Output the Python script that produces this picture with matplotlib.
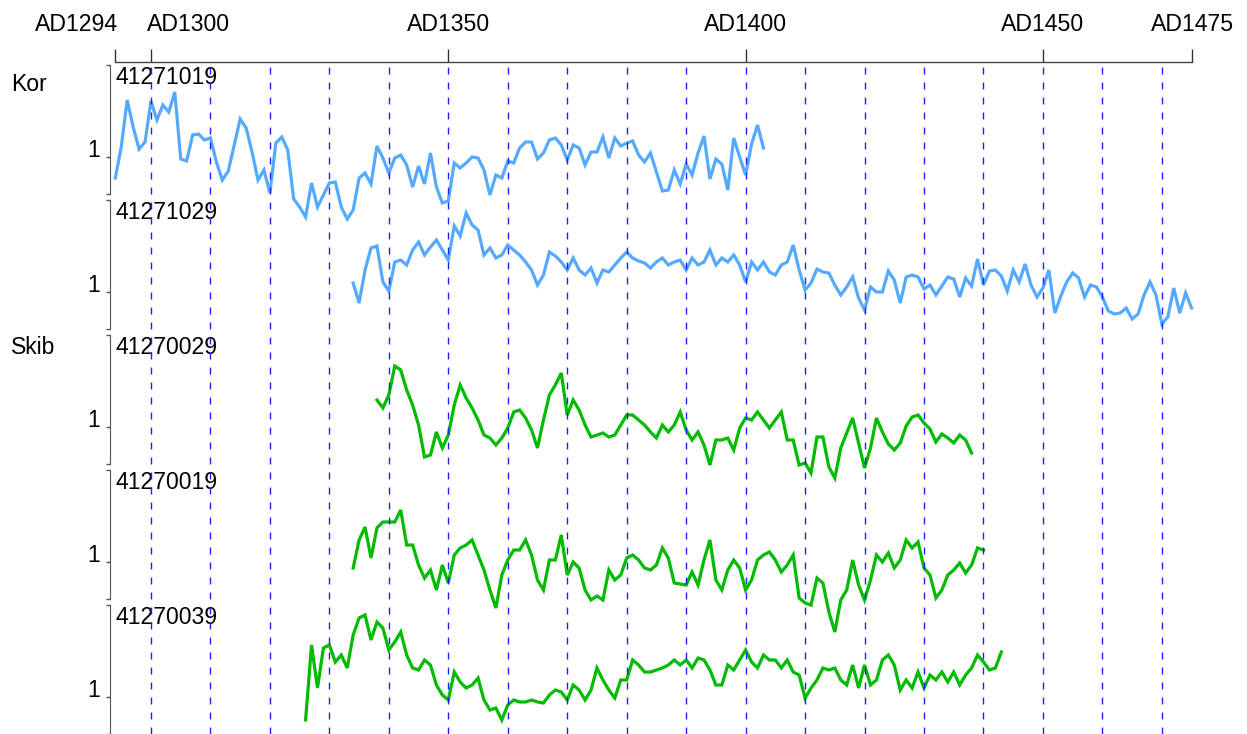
import numpy as np
import matplotlib.pyplot as plt
from matplotlib.transforms import blended_transform_factory

plt.rcParams['font.family'] = ['Liberation Sans', 'DejaVu Sans']
plt.rcParams['lines.scale_dashes'] = False

# time axis
first_year, last_year = 1294, 1475
axis_years = [1294, 1300, 1350, 1400, 1450, 1475]
axis_labels = ["AD1294", "AD1300", "AD1350", "AD1400", "AD1450", "AD1475"]
decades = list(range(1300, 1475, 10))

# series (ring width index, one value per year)
series_names = ["41271019", "41271029", "41270029", "41270019", "41270039"]
series_start = [1294, 1334, 1338, 1334, 1326]
series_group = ["Kor", "Kor", "Skib", "Skib", "Skib"]
group_colors = {"Kor": "#55aaff", "Skib": "#00bb00"}

kor_41271019 = [
    0.79, 1.10, 1.57, 1.30, 1.08, 1.15, 1.56, 1.37, 1.52, 1.45,
    1.65, 0.98, 0.96, 1.22, 1.23, 1.17, 1.19, 0.95, 0.77, 0.86,
    1.12, 1.38, 1.29, 1.05, 0.77, 0.87, 0.64, 1.14, 1.20, 1.07,
    0.58, 0.50, 0.40, 0.74, 0.50, 0.62, 0.74, 0.75, 0.50, 0.38,
    0.47, 0.79, 0.84, 0.73, 1.11, 0.99, 0.84, 0.99, 1.02, 0.92,
    0.70, 0.91, 0.73, 1.04, 0.70, 0.54, 0.56, 0.94, 0.89, 0.94,
    1.00, 0.99, 0.87, 0.62, 0.82, 0.79, 0.96, 0.94, 1.09, 1.15,
    1.15, 0.98, 1.04, 1.17, 1.19, 1.12, 0.97, 1.12, 1.09, 0.92,
    1.05, 1.05, 1.20, 0.99, 1.19, 1.11, 1.14, 1.16, 1.02, 0.95,
    1.04, 0.85, 0.66, 0.67, 0.87, 0.73, 0.93, 0.82, 1.04, 1.21,
    0.78, 0.98, 0.93, 0.67, 1.19, 1.00, 0.82, 1.13, 1.32, 1.09,
]
kor_41271029 = [
    1.09, 0.89, 1.22, 1.44, 1.46, 1.10, 1.01, 1.30, 1.32, 1.27,
    1.42, 1.50, 1.37, 1.45, 1.52, 1.42, 1.32, 1.66, 1.56, 1.79,
    1.67, 1.62, 1.37, 1.44, 1.34, 1.37, 1.47, 1.42, 1.37, 1.30,
    1.22, 1.07, 1.17, 1.40, 1.36, 1.30, 1.22, 1.34, 1.22, 1.17,
    1.24, 1.09, 1.22, 1.20, 1.27, 1.34, 1.40, 1.34, 1.31, 1.29,
    1.24, 1.30, 1.34, 1.27, 1.30, 1.32, 1.22, 1.34, 1.27, 1.30,
    1.42, 1.27, 1.34, 1.30, 1.37, 1.27, 1.10, 1.30, 1.22, 1.30,
    1.20, 1.17, 1.27, 1.30, 1.47,
    1.22, 1.02, 1.09, 1.23, 1.20, 1.19, 1.07, 0.97, 1.05, 1.15,
    0.94, 0.82, 1.05, 1.00, 1.00, 1.21, 1.12, 0.89, 1.15, 1.17,
    1.15, 1.03, 1.07, 0.97, 1.06, 1.15, 1.13, 0.95, 1.14, 1.06,
    1.33, 1.07, 1.21, 1.22, 1.16, 1.01, 1.22, 1.10, 1.28, 1.07,
    0.95, 1.04, 1.22, 0.79, 0.96, 1.10, 1.19, 1.14, 0.95, 1.07,
    1.05, 0.95, 0.81, 0.78, 0.79, 0.84, 0.73, 0.78, 0.97, 1.10,
    0.97, 0.68, 0.75, 1.04, 0.79, 0.99, 0.84,
]
skib_41270029 = [
    1.27, 1.19, 1.32, 1.61, 1.57, 1.37, 1.22, 1.02, 0.70, 0.72,
    0.95, 0.79, 0.92, 1.22, 1.42, 1.29, 1.19, 1.07, 0.92, 0.89,
    0.82, 0.89, 0.99, 1.15, 1.17, 1.09, 0.97, 0.79, 1.07, 1.32,
    1.42, 1.54, 1.12, 1.27, 1.17, 1.02, 0.90, 0.92, 0.94, 0.90,
    0.92, 1.02, 1.12, 1.12, 1.07, 1.02, 0.95, 0.89, 1.02, 0.95,
    1.02, 1.15, 0.97, 0.87, 0.95, 0.82, 0.62, 0.87, 0.87, 0.89,
    0.77, 0.99, 1.09, 1.07, 1.15, 1.07, 0.99, 1.07, 1.15, 0.87,
    0.87,
    0.62, 0.64, 0.54, 0.90, 0.90, 0.60, 0.49, 0.79, 0.94, 1.09,
    0.84, 0.59, 0.79, 1.09, 0.95, 0.83, 0.77, 0.84, 1.01, 1.10,
    1.12, 1.04, 0.98, 0.85, 0.93, 0.89, 0.84, 0.92, 0.87, 0.74,
]
skib_41270019 = [
    0.94, 1.22, 1.35, 1.04, 1.34, 1.40, 1.40, 1.40, 1.52, 1.17,
    1.17, 0.97, 0.84, 0.92, 0.72, 0.97, 0.79, 1.07, 1.14, 1.17,
    1.22, 1.07, 0.92, 0.72, 0.54, 0.87, 1.02, 1.12, 1.12, 1.22,
    1.07, 0.82, 0.72, 1.02, 1.02, 1.27, 0.87, 1.00, 0.94, 0.72,
    0.62, 0.66, 0.62, 0.92, 0.82, 0.87, 1.04, 1.07, 1.02, 0.94,
    0.92, 0.97, 1.14, 1.04, 0.79, 0.78, 0.77, 0.90, 0.77, 1.02,
    1.22, 0.82, 0.72, 0.92, 1.02, 0.94, 0.72, 0.82, 1.02, 1.07,
    1.10, 1.02, 0.90, 0.97, 1.07, 0.64, 0.59, 0.57, 0.84, 0.79,
    0.50, 0.30, 0.62, 0.72, 1.02, 0.77, 0.62, 0.82, 1.07, 1.00,
    1.09, 0.94, 1.02, 1.22, 1.14, 1.20, 0.94, 0.87, 0.64, 0.72,
    0.87, 0.92, 0.99, 0.89, 0.97, 1.14, 1.12,
]
skib_41270039 = [
    0.77, 1.52, 1.09, 1.49, 1.52, 1.35, 1.42, 1.29, 1.62, 1.79,
    1.82, 1.57, 1.75, 1.69, 1.47, 1.55, 1.65, 1.42, 1.29, 1.27,
    1.37, 1.32, 1.12, 1.02, 0.97, 1.25, 1.15, 1.09, 1.12, 1.19,
    0.97, 0.87, 0.89, 0.77, 0.92, 0.97, 0.95, 0.95, 0.97, 0.95,
    0.94, 1.02, 1.07, 1.05, 0.97, 1.12, 1.07, 0.97, 1.07, 1.29,
    1.17, 1.07, 0.99, 1.17, 1.17, 1.37, 1.32, 1.25, 1.25, 1.27,
    1.29, 1.32, 1.37, 1.32, 1.37, 1.29, 1.39, 1.37, 1.27, 1.12,
    1.12, 1.32, 1.27, 1.37, 1.47, 1.35, 1.29, 1.42, 1.37, 1.37,
    1.29, 1.37, 1.25, 1.22, 0.99, 1.09, 1.17, 1.29, 1.27, 1.29,
    1.17, 1.12, 1.32, 1.09, 1.32, 1.12, 1.17, 1.37, 1.42, 1.32,
    1.07, 1.17, 1.09, 1.25, 1.09, 1.22, 1.17, 1.25, 1.15, 1.25,
    1.12, 1.22, 1.29, 1.42, 1.35, 1.27, 1.29, 1.45,
]
series_values = [kor_41271019, kor_41271029, skib_41270029,
                 skib_41270019, skib_41270039]

W, H = 1247, 734
fs = 16.6
fig = plt.figure(figsize=(W / 100, H / 100), dpi=100)

x0, x1 = 115.3, 1191.6
left = x0 / W
width = (x1 - x0) / W
panel_top, panel_step, panel_h = 65, 135, 129.3
ylo, yhi = 0.627, 1.92

for k, name in enumerate(series_names):
    top = panel_top + panel_step * k
    ax = fig.add_axes([left, 1 - (top + panel_h) / H, width, panel_h / H])
    ax.set_facecolor("none")
    vals = series_values[k]
    years = series_start[k] + np.arange(len(vals))
    ax.plot(years, vals, color=group_colors[series_group[k]], lw=2.3,
            clip_on=False, solid_joinstyle="miter")
    ax.set_xlim(first_year, last_year)
    ax.set_ylim(ylo, yhi)
    for s in ["top", "right", "bottom"]:
        ax.spines[s].set_visible(False)
    ax.spines["left"].set_position(("outward", 3.6))
    ax.spines["left"].set_color("#555555")
    ax.set_xticks([])
    ax.set_yticks([ylo, 1, yhi])
    ax.set_yticklabels(["", "1", ""])
    ax.tick_params(axis="y", length=3, width=1, color="#555555",
                   labelsize=fs, pad=4.3)
    for t in ax.get_yticklabels():
        t.set_verticalalignment("baseline")
    ax.text(0.0, 0.995, name, transform=ax.transAxes, ha="left", va="top",
            fontsize=fs)

fig.text(11 / W, 1 - 91 / H, "Kor", fontsize=fs, va="baseline")
fig.text(11 / W, 1 - 354 / H, "Skib", fontsize=fs, va="baseline")

# top time axis and decade guides
top_y = 62
axt = fig.add_axes([left, 0, width, 1 - top_y / H])
axt.set_facecolor("none")
axt.set_xlim(first_year, last_year)
axt.set_ylim(0, 1)
for s in ["left", "right", "bottom"]:
    axt.spines[s].set_visible(False)
axt.spines["top"].set_color("#444444")
axt.spines["top"].set_linewidth(1.0)
axt.xaxis.tick_top()
axt.set_xticks(axis_years)
axt.set_xticklabels([])
axt.tick_params(axis="x", direction="out", length=9.4, width=1, color="#333333")
axt.set_yticks([])
guide_top = 1 - (67 - top_y) / (H - top_y)
for d in decades:
    axt.axvline(d, ymin=0, ymax=guide_top, color="#2020ff", lw=1.0,
                dashes=(5, 5.8))

tr = blended_transform_factory(axt.transData, fig.transFigure)
label_ha = ["right", "left", "center", "center", "center", "center"]
label_dx = [0.4, -0.6, 0, 0, 0, 0.2]
for yr, lab, ha, dx in zip(axis_years, axis_labels, label_ha, label_dx):
    fig.text(yr + dx, 1 - 31 / H, lab, transform=tr, ha=ha, va="baseline",
             fontsize=fs)

fig.savefig("out.png", dpi=100)
